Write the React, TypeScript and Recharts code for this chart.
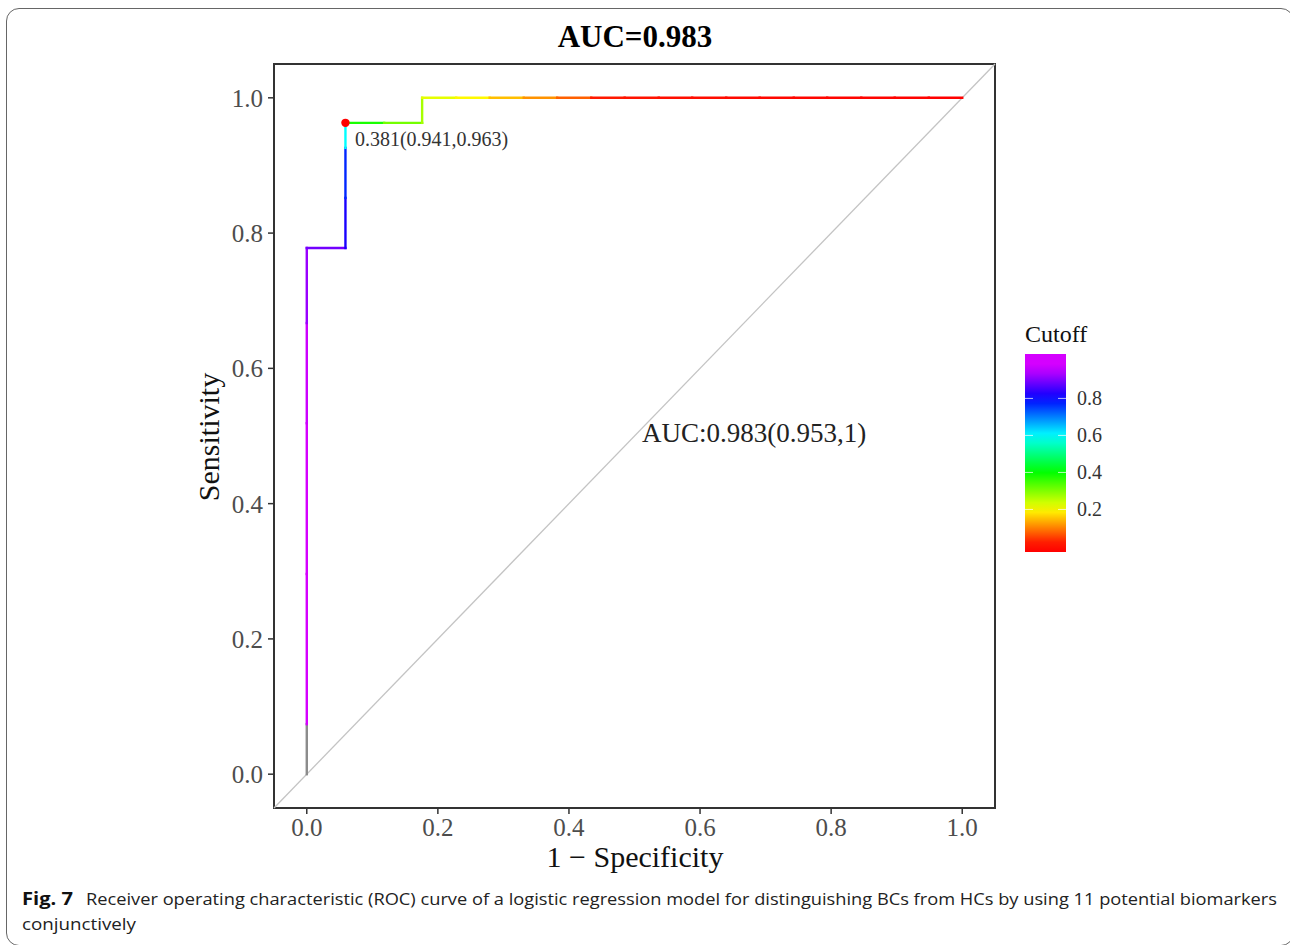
import React from 'react';
import { ComposedChart, Line, Scatter, XAxis, YAxis, ReferenceArea, ReferenceLine } from 'recharts';

// ROC path, in drawing order; each segment takes the colour of its starting point's cutoff
const fpr = [0, 0, 0, 0, 0, 0, 0.059, 0.059, 0.059, 0.059, 0.118, 0.176, 0.176, 0.228, 0.279, 0.331, 0.382, 0.434, 0.485, 0.537, 0.588, 0.64, 0.691, 0.743, 0.794, 0.846, 0.897, 0.949, 1.0];
const tpr = [0, 0.074, 0.296, 0.519, 0.667, 0.778, 0.778, 0.852, 0.926, 0.963, 0.963, 0.963, 1, 1, 1, 1, 1, 1, 1, 1, 1, 1, 1, 1, 1, 1, 1, 1, 1];
const cutoff: (number | null)[] = [null, 0.98, 0.975, 0.96, 0.92, 0.89, 0.82, 0.77, 0.6, 0.381, 0.31, 0.27, 0.22, 0.195, 0.15, 0.115, 0.075, 0.02, 0.015, 0.012, 0.01, 0.008, 0.006, 0.005, 0.004, 0.003, 0.002, 0.001, 0.001];

const bestCut = 0.381;
const bestSpec = 0.941;
const bestSens = 0.963;

const aucLabel = 'AUC:0.983(0.953,1)';
const aucTitle = 'AUC=0.983';

const xTicks = [0, 0.2, 0.4, 0.6, 0.8, 1.0];
const yTicks = [0, 0.2, 0.4, 0.6, 0.8, 1.0];
const legendTicks = [0.2, 0.4, 0.6, 0.8];
const legendRange = [-0.03, 1.04];

const captionBold = 'Fig. 7';
const captionLine1 = 'Receiver operating characteristic (ROC) curve of a logistic regression model for distinguishing BCs from HCs by using 11 potential biomarkers';
const captionLine2 = 'conjunctively';

const serif = '"Liberation Serif", "Times New Roman", serif';
const sans = '"Open Sans", sans-serif';

function cutColor(v: number | null) {
    if (v === null) return '#8c8c8c';
    const h = Math.max(0, Math.min(300 * v, 290));
    return `hsl(${h}, 100%, 50%)`;
}

const segments = fpr.slice(0, -1).map((x, i) => ({
    color: cutColor(cutoff[i]),
    pts: [{ x, y: tpr[i] }, { x: fpr[i + 1], y: tpr[i + 1] }],
}));

const bestPoint = [{ x: 1 - bestSpec, y: bestSens }];
const aucPoint = [{ x: 0.5, y: 0.5 }];

const fmt = (v: number) => v.toFixed(1);

export default function App() {
    const barTop = 354;
    const barH = 198;
    const legY = (v: number) => barTop + ((legendRange[1] - v) / (legendRange[1] - legendRange[0])) * barH;
    const stops = Array.from({ length: 21 }, (_, i) => {
        const v = legendRange[1] - (i / 20) * (legendRange[1] - legendRange[0]);
        return { off: i / 20, c: cutColor(v) };
    });

    return (
        <div style={{ position: 'absolute', left: 0, top: 0, width: 1290, height: 945, overflow: 'hidden', background: '#fff' }}>
            <div style={{ position: 'absolute', left: 6, top: 8, width: 1286, height: 936, border: '1.5px solid #666', borderRadius: 13 }} />
            <div style={{ position: 'absolute', left: 0, top: 0 }}>
                <ComposedChart width={1290} height={945} margin={{ top: 64, right: 295, bottom: 97, left: 174 }}>
                    <XAxis
                        type="number"
                        dataKey="x"
                        domain={[-0.05, 1.05]}
                        ticks={xTicks}
                        tickFormatter={fmt}
                        allowDataOverflow
                        axisLine={false}
                        tickSize={6}
                        tickMargin={4}
                        tickLine={{ stroke: '#333', strokeWidth: 1.5 }}
                        tick={{ fill: '#4d4d4d', fontSize: 25, fontFamily: serif }}
                        height={40}
                    />
                    <YAxis
                        type="number"
                        dataKey="y"
                        domain={[-0.05, 1.05]}
                        ticks={yTicks}
                        tickFormatter={fmt}
                        allowDataOverflow
                        axisLine={false}
                        tickSize={6}
                        tickMargin={5}
                        tickLine={{ stroke: '#333', strokeWidth: 1.5 }}
                        tick={{ fill: '#4d4d4d', fontSize: 25, fontFamily: serif }}
                        width={100}
                    />
                    <ReferenceLine
                        segment={[{ x: -0.05, y: -0.05 }, { x: 1.05, y: 1.05 }]}
                        stroke="#c4c4c4"
                        strokeWidth={1.3}
                    />
                    {segments.map((s, i) => (
                        <Line
                            key={i}
                            data={s.pts}
                            dataKey="y"
                            type="linear"
                            stroke={s.color}
                            strokeWidth={2.4}
                            strokeLinecap="square"
                            dot={false}
                            activeDot={false}
                            isAnimationActive={false}
                            legendType="none"
                        />
                    ))}
                    <Scatter
                        data={bestPoint}
                        dataKey="y"
                        isAnimationActive={false}
                        shape={(p: any) => (
                            <g>
                                <circle cx={p.cx} cy={p.cy} r={4.2} fill="#ff0000" />
                                <text x={p.cx + 9.5} y={p.cy + 23.5} fontSize={20} fontFamily={serif} fill="#333">
                                    {`${bestCut}(${bestSpec},${bestSens})`}
                                </text>
                            </g>
                        )}
                    />
                    <Scatter
                        data={aucPoint}
                        dataKey="y"
                        isAnimationActive={false}
                        shape={(p: any) => (
                            <text x={p.cx + 7.5} y={p.cy + 6} fontSize={27} fontFamily={serif} fill="#222">
                                {aucLabel}
                            </text>
                        )}
                    />
                    <ReferenceArea x1={-0.05} x2={1.05} y1={-0.05} y2={1.05} fill="none" stroke="#333" strokeWidth={2} ifOverflow="visible" />
                </ComposedChart>
            </div>
            <svg width={1290} height={945} style={{ position: 'absolute', left: 0, top: 0, pointerEvents: 'none' }}>
                <defs>
                    <linearGradient id="cutGrad" x1="0" y1="0" x2="0" y2="1">
                        {stops.map((s, i) => (
                            <stop key={i} offset={s.off} stopColor={s.c} />
                        ))}
                    </linearGradient>
                </defs>
                <text x={635} y={47} textAnchor="middle" fontSize={31} fontWeight="bold" fontFamily={serif} fill="#000">
                    {aucTitle}
                </text>
                <text transform="translate(219,437) rotate(-90)" textAnchor="middle" fontSize={30} fontFamily={serif} fill="#111">
                    Sensitivity
                </text>
                <text x={635} y={867} textAnchor="middle" fontSize={30} fontFamily={serif} fill="#111">
                    1 − Specificity
                </text>
                <text x={1025} y={342} fontSize={24} fontFamily={serif} fill="#111">Cutoff</text>
                <rect x={1025} y={barTop} width={41} height={barH} fill="url(#cutGrad)" />
                {legendTicks.map((t) => (
                    <g key={t}>
                        <line x1={1025} x2={1033} y1={legY(t)} y2={legY(t)} stroke="#fff" strokeOpacity={0.7} strokeWidth={1} />
                        <line x1={1058} x2={1066} y1={legY(t)} y2={legY(t)} stroke="#fff" strokeOpacity={0.7} strokeWidth={1} />
                        <text x={1077} y={legY(t) + 7} fontSize={20} fontFamily={serif} fill="#333">{t.toFixed(1)}</text>
                    </g>
                ))}
                <text x={22} y={905} fontSize={17} fontWeight="bold" fontFamily={sans} fill="#111" textLength={51} lengthAdjust="spacingAndGlyphs">
                    {captionBold}
                </text>
                <text x={86} y={905} fontSize={17} fontFamily={sans} fill="#222" textLength={1191} lengthAdjust="spacingAndGlyphs">
                    {captionLine1}
                </text>
                <text x={22} y={930} fontSize={17} fontFamily={sans} fill="#222" textLength={114} lengthAdjust="spacingAndGlyphs">
                    {captionLine2}
                </text>
            </svg>
        </div>
    );
}
